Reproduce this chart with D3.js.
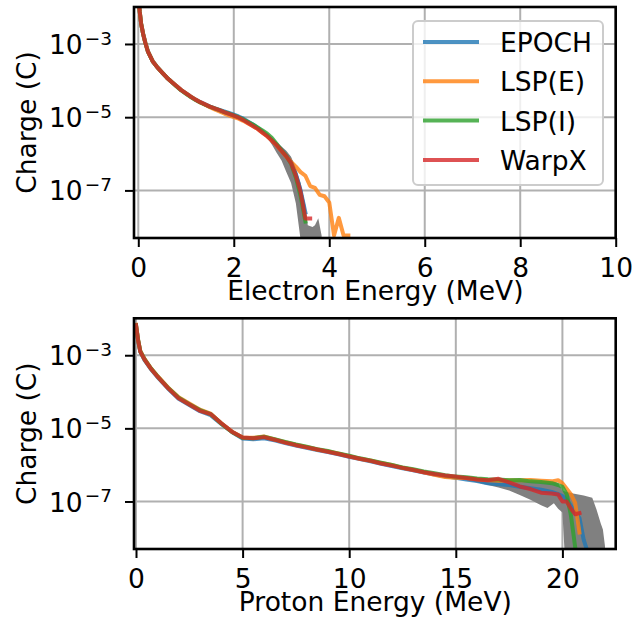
<!DOCTYPE html>
<html>
<head>
<meta charset="utf-8">
<script src="https://cdn.jsdelivr.net/npm/d3@7"></script>
<style>
  html, body { margin: 0; padding: 0; background: #fff; }
  svg { display: block; font-family: "DejaVu Sans", sans-serif; }
</style>
</head>
<body>
<svg id="chart" width="644" height="618"></svg>
<script>
// Charge spectra (log10 of charge in C) for each code; ZERO marks an empty bin.
const ZERO = -Infinity;

const codes  = ["EPOCH", "LSP(E)", "LSP(I)", "WarpX"];
const colors = ["#1f77b4", "#ff7f0e", "#2ca02c", "#d62728"];

// ---- Electrons ----
const eEnergy = [0, 0.03, 0.06, 0.1, 0.15, 0.2, 0.3, 0.4, 0.5, 0.6, 0.7, 0.8, 0.9, 1.0, 1.1, 1.2, 1.3, 1.4, 1.5, 1.6,
  1.7, 1.8, 1.9, 2.0, 2.1, 2.2, 2.3, 2.4, 2.5, 2.6, 2.7, 2.8, 2.9, 3.0, 3.1, 3.2, 3.3, 3.4, 3.5, 3.6,
  3.7, 3.8, 3.9, 4.0, 4.1, 4.2, 4.3, 4.4];

const eEPOCH = [-1.7, -2.12, -2.45, -2.72, -2.98, -3.2, -3.47, -3.64, -3.78, -3.92, -4.04, -4.15, -4.26, -4.35, -4.44, -4.52, -4.59, -4.65, -4.71, -4.76,
  -4.8, -4.84, -4.88, -4.93, -4.98, -5.04, -5.12, -5.2, -5.29, -5.39, -5.5, -5.62, -5.75, -5.9, -6.05, -6.22, -6.55, -7.0, -7.6];
const eLSPE = [-1.7, -2.12, -2.45, -2.72, -2.98, -3.2, -3.47, -3.64, -3.78, -3.92, -4.04, -4.15, -4.26, -4.35, -4.44, -4.52, -4.6, -4.66,
  -4.73, -4.79, -4.84, -4.9, -4.95, -5.0, -5.04, -5.1, -5.17, -5.24, -5.32, -5.42, -5.52, -5.64, -5.77, -5.92, -6.07, -6.22,
  -6.35, -6.5, -6.6, -6.88, -6.93, -7.12, -7.16, -7.33, ZERO, -7.75, ZERO, ZERO];
const eLSPI = [-1.7, -2.12, -2.45, -2.72, -2.98, -3.2, -3.47, -3.64, -3.78, -3.92, -4.04, -4.16, -4.27, -4.36, -4.45, -4.53, -4.6, -4.66, -4.71, -4.76,
  -4.81, -4.86, -4.9, -4.95, -5.0, -5.06, -5.13, -5.2, -5.28, -5.36, -5.45, -5.57, -5.73, -5.9, -6.06, -6.27, -6.65, -7.15, -7.85];
const eWarpX = [-1.7, -2.12, -2.45, -2.72, -2.98, -3.2, -3.47, -3.64, -3.78, -3.92, -4.04, -4.15, -4.26, -4.35, -4.44, -4.52, -4.59, -4.65, -4.71, -4.76,
  -4.81, -4.86, -4.91, -4.96, -5.01, -5.08, -5.16, -5.24, -5.32, -5.42, -5.52, -5.64, -5.77, -5.92, -6.07, -6.25, -6.6, -7.05, -7.77, -7.77];

// spread of repeated runs (grey envelope)
const eBandEnergy = [2.4, 2.5, 2.6, 2.7, 2.8, 2.9, 3.0, 3.1, 3.2, 3.3, 3.4, 3.5, 3.55, 3.65, 3.7, 3.77, 3.84];
const eBandLow  = [-5.27, -5.35, -5.45, -5.57, -5.75, -5.98, -6.18, -6.5, -6.8, -7.35, ZERO, ZERO, ZERO, ZERO, ZERO, ZERO, ZERO];
const eBandHigh = [-5.2, -5.28, -5.37, -5.46, -5.58, -5.7, -5.8, -5.92, -6.08, -6.4, -6.8, -7.4, -7.95, -8.0, -7.95, -7.76, ZERO];

// ---- Protons ----
const pEnergy = [0, 0.1, 0.2, 0.4, 0.7, 1.0, 1.5, 2.0, 2.5, 3.0, 3.5, 4.0, 4.5, 5.0, 5.5, 6.0, 6.5, 7.0, 7.5, 8.0,
  8.5, 9.0, 9.5, 10.0, 10.5, 11.0, 11.5, 12.0, 12.5, 13.0, 13.5, 14.0, 14.5, 15.0, 15.5, 16.0, 16.5, 17.0, 17.5, 18.0,
  18.5, 19.0, 19.5, 19.8, 20.0, 20.2, 20.4, 20.6, 20.8, 21.0, 21.1];

const pEPOCH = [-2.18, -2.6, -2.9, -3.13, -3.38, -3.59, -3.91, -4.19, -4.36, -4.53,
  -4.64, -4.88, -5.1, -5.28, -5.3, -5.27, -5.33, -5.4, -5.47, -5.53,
  -5.59, -5.65, -5.71, -5.78, -5.84, -5.9, -5.97, -6.03, -6.09, -6.15,
  -6.21, -6.26, -6.31, -6.35, -6.4, -6.44, -6.5, -6.53, -6.55, -6.6,
  -6.64, -6.68, -6.74, -6.8, -6.85, -6.95, -7.12, -7.3, -7.45, -8.05, ZERO];
const pLSPE = [-2.17, -2.58, -2.88, -3.1, -3.36, -3.56, -3.88, -4.15, -4.32, -4.49,
  -4.6, -4.86, -5.09, -5.25, -5.26, -5.22, -5.3, -5.38, -5.45, -5.51,
  -5.58, -5.63, -5.69, -5.76, -5.83, -5.88, -5.95, -6.0, -6.08, -6.13,
  -6.2, -6.27, -6.33, -6.35, -6.36, -6.39, -6.42, -6.43, -6.42, -6.42,
  -6.41, -6.43, -6.45, -6.42, -6.5, -6.65, -6.8, -7.04, -7.85];
const pLSPI = [-2.18, -2.59, -2.89, -3.11, -3.36, -3.57, -3.89, -4.16, -4.34, -4.5,
  -4.61, -4.87, -5.1, -5.26, -5.27, -5.23, -5.3, -5.37, -5.44, -5.5,
  -5.57, -5.62, -5.69, -5.75, -5.82, -5.88, -5.94, -6.0, -6.07, -6.12,
  -6.18, -6.23, -6.28, -6.32, -6.34, -6.37, -6.39, -6.4, -6.42, -6.41,
  -6.45, -6.47, -6.5, -6.55, -6.6, -6.8, -7.38, -8.25];
const pWarpX = [-2.18, -2.6, -2.9, -3.12, -3.37, -3.58, -3.9, -4.18, -4.35, -4.52,
  -4.61, -4.86, -5.09, -5.25, -5.27, -5.24, -5.31, -5.39, -5.46, -5.52,
  -5.58, -5.64, -5.7, -5.77, -5.83, -5.89, -5.96, -6.02, -6.08, -6.14,
  -6.2, -6.25, -6.29, -6.32, -6.36, -6.4, -6.42, -6.38, -6.48, -6.59,
  -6.66, -6.76, -6.78, -6.81, -7.0, -7.0, -7.2, -7.35, -7.32];

const pBandEnergy = [4.5, 5.0, 5.5, 6.0, 6.5, 7.0, 8.0, 9.0, 10.0, 11.0, 12.0, 13.0, 14.0, 14.5, 15.0, 15.5, 16.0, 16.5,
  17.0, 17.5, 18.0, 18.5, 19.0, 19.3, 19.6, 19.8, 20.0, 20.1, 20.5, 21.0, 21.4, 21.6, 21.8, 21.9, 22.0];
const pBandLow = [-5.13, -5.31, -5.32, -5.29, -5.35, -5.42, -5.55, -5.67, -5.8, -5.92, -6.05, -6.17, -6.28, -6.33, -6.38, -6.42, -6.48, -6.55,
  -6.62, -6.7, -6.82, -6.95, -7.1, -7.18, -7.05, -7.2, -7.3, ZERO, ZERO, ZERO, ZERO, ZERO, ZERO, ZERO, ZERO];
const pBandHigh = [-5.08, -5.24, -5.25, -5.22, -5.3, -5.37, -5.5, -5.62, -5.75, -5.87, -5.99, -6.11, -6.22, -6.27, -6.3, -6.33, -6.38, -6.4,
  -6.42, -6.42, -6.42, -6.43, -6.45, -6.45, -6.46, -6.5, -6.7, -6.72, -6.78, -6.84, -6.9, -7.22, -7.6, -7.77, ZERO];

// ---- Axes ----
const electronTicks = [0, 2, 4, 6, 8, 10];
const protonTicks = [0, 5, 10, 15, 20];
const chargeTickExponents = [-3, -5, -7];

const svg = d3.select("#chart");
const FONT = 26.5;

const panels = [
  { id: "e", top: 7, height: 231, xDomain: [-0.09, 10], ticks: electronTicks, label: "Electron Energy (MeV)",
    energy: eEnergy, series: [eEPOCH, eLSPE, eLSPI, eWarpX],
    band: { energy: eBandEnergy, low: eBandLow, high: eBandHigh }, legend: true },
  { id: "p", top: 318.3, height: 230.7, xDomain: [-0.094, 22.5], ticks: protonTicks, label: "Proton Energy (MeV)",
    energy: pEnergy, series: [pEPOCH, pLSPE, pLSPI, pWarpX],
    band: { energy: pBandEnergy, low: pBandLow, high: pBandHigh }, legend: false }
];

const left = 134, width = 481.7;

panels.forEach(p => {
  const h = p.height;
  const x = d3.scaleLinear().domain(p.xDomain).range([0, width]);
  const y = d3.scaleLog().domain([Math.pow(10, -8.3), Math.pow(10, -1.99)]).range([h, 0]);
  // empty bins sit on the lower edge of the axis
  const floorPx = h - 2.5;
  const yOf = v => isFinite(v) ? y(Math.pow(10, v)) : floorPx;

  const g = svg.append("g").attr("transform", `translate(${left},${p.top})`);

  g.append("clipPath").attr("id", "clip-" + p.id)
    .append("rect").attr("width", width).attr("height", h);

  // grid
  const grid = g.append("g");
  grid.selectAll("line.vx").data(p.ticks).join("line")
    .attr("x1", d => x(d)).attr("x2", d => x(d)).attr("y1", 0).attr("y2", h)
    .attr("stroke", "#b0b0b0").attr("stroke-width", 2);
  grid.selectAll("line.hy").data(chargeTickExponents).join("line")
    .attr("x1", 0).attr("x2", width).attr("y1", d => yOf(d)).attr("y2", d => yOf(d))
    .attr("stroke", "#b0b0b0").attr("stroke-width", 2);

  const plot = g.append("g").attr("clip-path", `url(#clip-${p.id})`);

  // grey envelope; its lower edge drops to the axis where the bin is empty
  const bandData = p.band.energy.map((e, i) => [e, p.band.low[i], p.band.high[i]]);
  plot.append("path").datum(bandData)
    .attr("d", d3.area().x(d => x(d[0]))
      .y0(d => isFinite(d[1]) ? yOf(d[1]) : h + 2)
      .y1(d => yOf(d[2])))
    .attr("fill", "#808080");

  // code spectra
  const line = d3.line().x(d => x(d[0])).y(d => yOf(d[1]));
  p.series.forEach((s, k) => {
    const data = s.map((v, i) => [p.energy[i], v]);
    plot.append("path").datum(data).attr("d", line)
      .attr("fill", "none").attr("stroke", colors[k]).attr("stroke-opacity", 0.8)
      .attr("stroke-width", 4).attr("stroke-linejoin", "round").attr("stroke-linecap", "square");
  });

  // spines
  g.append("rect").attr("width", width).attr("height", h)
    .attr("fill", "none").attr("stroke", "#000").attr("stroke-width", 2.6);

  // x axis
  const xAxis = g.append("g").attr("transform", `translate(0,${h})`)
    .call(d3.axisBottom(x).tickValues(p.ticks).tickSize(9).tickPadding(11).tickFormat(d3.format("d")));
  xAxis.select(".domain").remove();
  xAxis.selectAll(".tick line").attr("stroke", "#000").attr("stroke-width", 2);
  xAxis.selectAll(".tick text").attr("fill", "#000").style("font-size", FONT + "px")
    .style("font-family", "DejaVu Sans");

  // y axis (log, labelled as powers of ten)
  const yAxis = g.append("g")
    .call(d3.axisLeft(y).tickValues(chargeTickExponents.map(e => Math.pow(10, e)))
      .tickSize(9).tickPadding(13).tickFormat(() => ""));
  yAxis.select(".domain").remove();
  yAxis.selectAll(".tick line").attr("stroke", "#000").attr("stroke-width", 2);
  yAxis.selectAll(".tick text").each(function(d) {
    const t = d3.select(this).attr("fill", "#000").attr("dy", "0.36em")
      .style("font-size", FONT + "px").style("font-family", "DejaVu Sans");
    const exp = Math.round(Math.log10(d));
    t.append("tspan").text("10");
    t.append("tspan").attr("dy", -9.5).attr("dx", 2).style("font-size", "18.5px")
      .text("\u2212" + Math.abs(exp));
  });

  // axis labels
  g.append("text").attr("x", width / 2 + 0.5).attr("y", h + 62)
    .attr("text-anchor", "middle").style("font-size", FONT + "px").text(p.label);
  g.append("text").attr("transform", `translate(${36 - left},${h / 2}) rotate(-90)`)
    .attr("text-anchor", "middle").style("font-size", FONT + "px").text("Charge (C)");

  // legend
  if (p.legend) {
    const lg = svg.append("g").attr("transform", "translate(413,21)");
    lg.append("rect").attr("width", 190).attr("height", 164).attr("rx", 5)
      .attr("fill", "#fff").attr("fill-opacity", 0.8)
      .attr("stroke", "#cccccc").attr("stroke-width", 2);
    codes.forEach((c, k) => {
      const ry = 21 + k * 39.3;
      lg.append("line").attr("x1", 10).attr("x2", 66).attr("y1", ry).attr("y2", ry)
        .attr("stroke", colors[k]).attr("stroke-opacity", 0.8).attr("stroke-width", 4);
      lg.append("text").attr("x", 87).attr("y", ry + 10)
        .style("font-size", FONT + "px").text(c);
    });
  }
});
</script>
</body>
</html>
